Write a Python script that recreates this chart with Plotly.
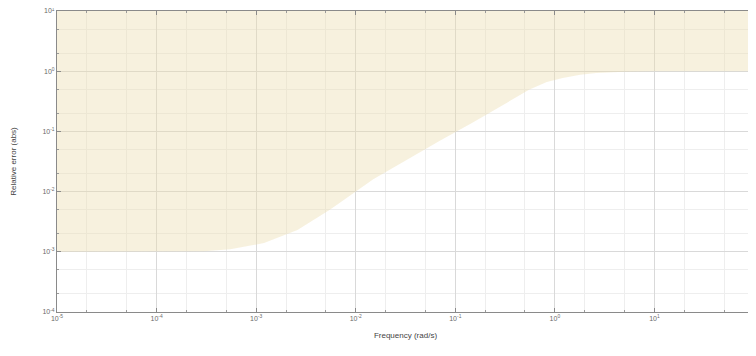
import plotly.graph_objects as go

# Data (frequency in rad/s, bound value, absolute)
frequency = [1e-5, 1e-4, 3e-4, 5.5e-4, 1.2e-3, 2.6e-3, 5.5e-3, 1.5e-2, 3.3e-2,
             7e-2, 0.15, 0.38, 0.55, 0.83, 1.2, 1.8, 2.6, 5.0, 10.0, 100.0]
bound = [1e-3, 1e-3, 1.02e-3, 1.1e-3, 1.4e-3, 2.3e-3, 5e-3, 1.6e-2, 3.4e-2,
         7e-2, 0.14, 0.35, 0.49, 0.66, 0.77, 0.87, 0.93, 0.98, 1.0, 1.0]
y_top = 10.0

x_tickvals = [1e-5, 1e-4, 1e-3, 1e-2, 1e-1, 1e0, 1e1, 1e2]
x_ticktext = ["10<sup>-5</sup>", "10<sup>-4</sup>", "10<sup>-3</sup>", "10<sup>-2</sup>",
              "10<sup>-1</sup>", "10<sup>0</sup>", "10<sup>1</sup>", "10<sup>2</sup>"]
y_tickvals = [1e-4, 1e-3, 1e-2, 1e-1, 1e0, 1e1]
y_ticktext = ["10<sup>-4</sup>", "10<sup>-3</sup>", "10<sup>-2</sup>", "10<sup>-1</sup>",
              "10<sup>0</sup>", "10<sup>1</sup>"]

poly_x = frequency + [frequency[-1], frequency[0]]
poly_y = bound + [y_top, y_top]

fig = go.Figure()
fig.add_trace(go.Scatter(
    x=poly_x, y=poly_y, mode="lines", fill="toself",
    fillcolor="rgba(235,220,172,0.40)", line=dict(width=0),
    hoverinfo="skip", showlegend=False))

FONT = "Liberation Sans, Arial, sans-serif"
axis_common = dict(
    type="log", showline=True, linecolor="#8a8a8a", linewidth=1, mirror="allticks",
    ticks="inside", ticklen=4, tickcolor="#8a8a8a", automargin=False,
    ticklabeloverflow="allow",
    showgrid=True, gridcolor="#d9d9d9", gridwidth=1, zeroline=False,
    tickfont=dict(family=FONT, size=7, color="#6a6a6a"),
    minor=dict(ticks="inside", ticklen=2, tickcolor="#9a9a9a", showgrid=True,
               gridcolor="#eeeeee", gridwidth=1),
)

fig.update_xaxes(range=[-5, 2], tickvals=x_tickvals, ticktext=x_ticktext,
                 title=dict(text="Frequency (rad/s)", standoff=10,
                            font=dict(family=FONT, size=8, color="#444")),
                 **axis_common)
fig.update_yaxes(range=[-4, 1], tickvals=y_tickvals, ticktext=y_ticktext,
                 title=dict(text="Relative error (abs)", standoff=24,
                            font=dict(family=FONT, size=8, color="#444")),
                 **axis_common)

# The page adds an 8px body margin, so the figure is sized to fit the window.
fig.update_layout(
    width=747, height=338,
    margin=dict(l=49, r=1, t=3, b=34),
    paper_bgcolor="white", plot_bgcolor="white",
    showlegend=False,
)

fig.write_html("out.html")
